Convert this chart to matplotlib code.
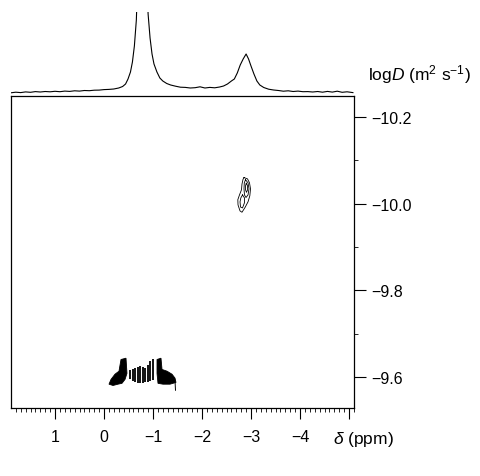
import matplotlib
matplotlib.use("Agg")
import matplotlib.pyplot as plt
from matplotlib.ticker import MultipleLocator, FixedLocator

plt.rcParams['font.family'] = ['Liberation Sans', 'DejaVu Sans']
plt.rcParams['mathtext.fontset'] = 'custom'
plt.rcParams['mathtext.rm'] = 'Liberation Sans'
plt.rcParams['mathtext.it'] = 'Liberation Sans:italic'

# ---------------- 1D projection (ppm, intensity) ----------------
spec_ppm = [1.90, 1.80, 1.70, 1.60, 1.50, 1.40, 1.30, 1.20, 1.10, 1.00,
            0.90, 0.80, 0.70, 0.60, 0.50, 0.40, 0.30, 0.20, 0.10, 0.00,
            -0.10, -0.20, -0.30, -0.38, -0.44, -0.49, -0.54, -0.58, -0.62, -0.66,
            -0.70, -0.75, -0.79, -0.83, -0.87, -0.90, -0.94, -0.98, -1.02, -1.08,
            -1.14, -1.20, -1.28, -1.36, -1.46, -1.56, -1.66, -1.76, -1.86, -1.96,
            -2.06, -2.16, -2.26, -2.36, -2.44, -2.52, -2.60, -2.66, -2.72, -2.78,
            -2.84, -2.90, -2.95, -3.00, -3.06, -3.12, -3.18, -3.26, -3.36, -3.46,
            -3.56, -3.66, -3.76, -3.86, -3.96, -4.06, -4.16, -4.26, -4.36, -4.46,
            -4.56, -4.66, -4.76, -4.86, -4.96, -5.08]
spec_int = [-0.8, -0.2, -0.6, 0.1, -0.3, 0.4, 0.0, 0.5, 0.2, 0.7,
            0.3, 0.9, 0.6, 1.2, 0.9, 1.5, 1.3, 1.8, 1.9, 2.4,
            2.6, 3.0, 4.0, 5.5, 8.0, 13, 20, 30, 46, 72,
            130, 300, 400, 300, 120, 78, 54, 38, 28, 20,
            14, 11, 8.5, 7.0, 5.8, 4.8, 4.6, 4.0, 4.3, 5.2,
            4.0, 4.6, 4.2, 5.0, 6.0, 8.0, 11, 13, 19, 27,
            33, 38, 33, 26, 18, 11, 7.0, 4.5, 2.8, 2.0,
            1.5, 0.8, 1.2, 0.5, 0.9, 0.3, 0.4, 0.0, 0.5, -0.2,
            0.6, -0.1, 0.8, -0.3, 0.2, -0.6]

# ---------------- DOSY contours near (-2.9, -10.0) ----------------
loops = [
    ([-2.857, -2.929, -2.969, -2.990, -2.976, -2.939, -2.878, -2.816, -2.776,
      -2.735, -2.731, -2.765, -2.806, -2.816, -2.837, -2.857],
     [-10.060, -10.057, -10.048, -10.034, -10.018, -10.004, -9.991, -9.980, -9.983,
      -9.997, -10.009, -10.020, -10.032, -10.045, -10.056, -10.060]),
    ([-2.888, -2.939, -2.959, -2.939, -2.898, -2.867, -2.857, -2.863, -2.888],
     [-10.055, -10.048, -10.034, -10.020, -10.014, -10.020, -10.034, -10.048, -10.055]),
    ([-2.904, -2.929, -2.931, -2.908, -2.888, -2.888, -2.904],
     [-10.047, -10.041, -10.032, -10.026, -10.032, -10.041, -10.047]),
    ([-2.827, -2.867, -2.867, -2.827, -2.786, -2.776, -2.792, -2.827],
     [-10.020, -10.013, -10.002, -9.990, -9.992, -10.004, -10.013, -10.020]),
]

# ---------------- dense contour cluster near (-1.0, -9.6) ----------------
left_ppm = [-0.347, -0.449, -0.469, -0.429, -0.367, -0.286, -0.184, -0.102,
            -0.143, -0.224, -0.306, -0.327]
left_logd = [-9.640, -9.643, -9.608, -9.594, -9.585, -9.583, -9.580, -9.583,
             -9.594, -9.606, -9.613, -9.627]
right_ppm = [-1.082, -1.163, -1.184, -1.286, -1.388, -1.449, -1.469, -1.347,
             -1.204, -1.102, -1.082]
right_logd = [-9.640, -9.643, -9.617, -9.613, -9.606, -9.597, -9.587, -9.583,
              -9.583, -9.585, -9.608]
comb_ppm = [-0.531, -0.582, -0.633, -0.684, -0.735, -0.786, -0.837, -0.888, -0.939, -0.990]
comb_top = [-9.615, -9.617, -9.620, -9.622, -9.624, -9.622, -9.620, -9.627, -9.636, -9.640]
comb_bot = [-9.594, -9.590, -9.587, -9.585, -9.585, -9.585, -9.587, -9.587, -9.590, -9.592]
tail_ppm = [-1.449, -1.459]
tail_logd = [-9.592, -9.569]

x_ticks = [1, 0, -1, -2, -3, -4, -5]
x_labels = ['1', '0', '\u22121', '\u22122', '\u22123', '\u22124', '']
y_ticks = [-10.2, -10.0, -9.8, -9.6]
y_labels = ['\u221210.2', '\u221210.0', '\u22129.8', '\u22129.6']

fig = plt.figure(figsize=(4.8, 4.77), dpi=100)
W, H = 480.0, 477.0

ax = fig.add_axes([11 / W, 1 - 409 / H, 343 / W, 312 / H])
ax_s = fig.add_axes([11 / W, 1 - 97 / H, 343 / W, 84 / H])

# spectrum on top
ax_s.plot(spec_ppm, spec_int, color='black', lw=0.8)
ax_s.set_xlim(1.898, -5.102)
ax_s.set_ylim(-4, 80)
ax_s.axis('off')

# 2D map
for xs, ys in loops:
    ax.plot(xs, ys, color='black', lw=0.6)
ax.fill(left_ppm, left_logd, color='black', lw=0.6)
ax.fill(right_ppm, right_logd, color='black', lw=0.6)
ax.vlines(comb_ppm, comb_top, comb_bot, color='black', lw=1.3)
ax.plot(tail_ppm, tail_logd, color='black', lw=0.7)

ax.set_xlim(1.898, -5.102)
ax.set_ylim(-9.528, -10.2484)

for sp in ax.spines.values():
    sp.set_linewidth(0.9)

ax.xaxis.set_major_locator(FixedLocator(x_ticks))
ax.set_xticklabels(x_labels)
ax.xaxis.set_minor_locator(MultipleLocator(0.1))
ax.yaxis.tick_right()
ax.yaxis.set_major_locator(FixedLocator(y_ticks))
ax.set_yticklabels(y_labels)
ax.yaxis.set_minor_locator(FixedLocator([-10.1, -9.9, -9.7]))

ax.tick_params(axis='x', which='major', direction='out', length=8, width=0.8,
               labelsize=11.5, pad=7)
ax.tick_params(axis='x', which='minor', direction='out', length=3, width=0.6)
ax.tick_params(axis='y', which='major', direction='out', length=8.5, width=0.8,
               labelsize=11.5, pad=4, left=False, right=True)
ax.tick_params(axis='y', which='minor', direction='out', length=3, width=0.6,
               left=False, right=True)

fig.text(333 / W, 1 - 440 / H, r'$\delta$ (ppm)', fontsize=12.5, ha='left', va='center')
fig.text(368 / W, 1 - 75 / H, r'log$D$ (m$^2$ s$^{-1}$)', fontsize=12.5,
         ha='left', va='center')

fig.savefig('out.png', dpi=100)
